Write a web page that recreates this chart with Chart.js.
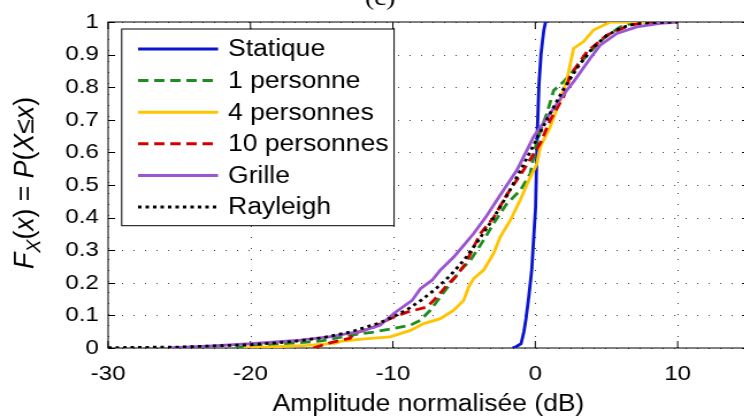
<!DOCTYPE html>
<html>
<head>
<meta charset="utf-8">
<script src="https://cdn.jsdelivr.net/npm/chart.js@4.4.1/dist/chart.umd.min.js"></script>
<style>
  html, body { margin: 0; padding: 0; background: #fff; overflow: hidden; }
</style>
</head>
<body>
<!-- the figure is slightly stretched horizontally, so the canvas is too -->
<canvas id="cdfChart" width="652" height="419" style="display:block;width:749.8px;height:419px"></canvas>
<script>
// Axis ticks
const xTicks = [-30, -20, -10, 0, 10];
const yTicks = [0, 0.1, 0.2, 0.3, 0.4, 0.5, 0.6, 0.7, 0.8, 0.9, 1];

// Series (x in dB, F = cumulative probability)
const statiqueX = [-1.6, -1.35, -1.0, -0.8, -0.65, -0.45, -0.25, -0.08, 0.02, 0.14, 0.26, 0.4, 0.5, 0.6, 0.72];
const statiqueF = [0, 0.004, 0.013, 0.05, 0.09, 0.16, 0.24, 0.36, 0.43, 0.66, 0.81, 0.9, 0.94, 0.975, 1.0];

const pers1X = [-21, -20, -18, -16, -15, -13, -11.35, -9.94, -8.77, -8.07, -7.37, -6.67, -5.96, -5.26, -4.56, -4.09, -3.63, -2.93, -2.46, -1.99, -1.05, -0.35, 0.12, 0.82, 1.29, 1.99, 3.04, 3.86, 4.8, 5.96, 6.9, 8, 10];
const pers1F = [0, 0.008, 0.012, 0.018, 0.022, 0.039, 0.049, 0.06, 0.07, 0.085, 0.116, 0.157, 0.198, 0.239, 0.269, 0.3, 0.331, 0.382, 0.413, 0.443, 0.484, 0.535, 0.638, 0.72, 0.79, 0.817, 0.868, 0.909, 0.95, 0.985, 0.997, 1.0, 1.0];

const pers4X = [-20.5, -18, -16, -14, -13.7, -12, -10.2, -8.77, -7.84, -6.67, -5.73, -5.03, -4.68, -4.33, -3.63, -2.93, -2.46, -1.75, -1.05, -0.5, 0.12, 0.35, 1.05, 1.75, 2.22, 2.69, 3.39, 4.09, 5.26, 6, 10];
const pers4F = [0, 0.004, 0.008, 0.015, 0.02, 0.028, 0.034, 0.054, 0.075, 0.09, 0.116, 0.146, 0.187, 0.213, 0.239, 0.29, 0.341, 0.392, 0.455, 0.51, 0.566, 0.617, 0.679, 0.76, 0.822, 0.919, 0.94, 0.975, 1.0, 1.0, 1.0];

const pers10X = [-15.6, -14.5, -13, -12.75, -11.35, -10.2, -9.0, -7.6, -6.9, -6.2, -5.5, -4.9, -4.33, -3.86, -2.93, -2.0, -0.82, 0.35, 1.05, 1.99, 2.46, 3.63, 5.03, 6.67, 8.3, 10];
const pers10F = [0, 0.015, 0.03, 0.044, 0.064, 0.09, 0.11, 0.126, 0.157, 0.193, 0.223, 0.259, 0.31, 0.351, 0.4, 0.47, 0.546, 0.628, 0.699, 0.771, 0.837, 0.909, 0.96, 0.991, 1.0, 1.0];

const grilleX = [-25.8, -23, -20, -16.5, -14.2, -13, -12.3, -10.9, -9.94, -8.65, -8.07, -7.25, -6.67, -5.73, -5.03, -4.33, -3.5, -2.6, -1.29, -0.47, -0.12, 1.05, 1.6, 2.2, 2.69, 3.86, 4.56, 5.73, 7.13, 8.77, 10];
const grilleF = [0, 0.006, 0.013, 0.024, 0.036, 0.046, 0.05, 0.07, 0.106, 0.146, 0.182, 0.208, 0.239, 0.279, 0.315, 0.351, 0.4, 0.46, 0.546, 0.617, 0.648, 0.72, 0.755, 0.79, 0.817, 0.889, 0.929, 0.965, 0.985, 0.996, 1.0];

const rayleighX = [-30, -25, -20, -17, -15, -13, -11, -10, -9, -8, -7, -6, -5, -4, -3, -2, -1, 0, 1, 2, 3, 4, 5, 6, 7, 8, 10];
const rayleighF = [0.001, 0.003, 0.01, 0.02, 0.031, 0.049, 0.076, 0.095, 0.118, 0.147, 0.181, 0.221, 0.27, 0.33, 0.394, 0.467, 0.548, 0.632, 0.716, 0.795, 0.863, 0.919, 0.958, 0.982, 0.994, 0.998, 1.0];

const seriesLabels = ['Statique', '1 personne', '4 personnes', '10 personnes', 'Grille', 'Rayleigh'];

const FONT = "'Liberation Sans', Arial, sans-serif";

function toPoints(xs, ys) {
  return xs.map((x, i) => ({ x: x, y: ys[i] }));
}

function lineSet(label, xs, ys, color, dash, order) {
  return {
    label: label,
    data: toPoints(xs, ys),
    borderColor: color,
    backgroundColor: color,
    borderWidth: 2.8,
    borderDash: dash,
    borderCapStyle: 'butt',
    pointRadius: 0,
    showLine: true,
    tension: 0,
    fill: false,
    order: order
  };
}

const datasets = [
  lineSet(seriesLabels[0], statiqueX, statiqueF, '#0a14cc', [], 5),
  lineSet(seriesLabels[1], pers1X, pers1F, '#1e8c1e', [9, 5], 4),
  lineSet(seriesLabels[2], pers4X, pers4F, '#ffc400', [], 3),
  lineSet(seriesLabels[3], pers10X, pers10F, '#d40000', [9, 5], 2),
  lineSet(seriesLabels[4], grilleX, grilleF, '#9b55d2', [], 1),
  lineSet(seriesLabels[5], rayleighX, rayleighF, '#000000', [3, 3.5], 0)
];

// dotted grid, frame, inward ticks, titles and the boxed legend
const decorPlugin = {
  id: 'decor',
  beforeDatasetsDraw(chart) {
    const ctx = chart.ctx;
    const a = chart.chartArea;
    const xs = chart.scales.x, ys = chart.scales.y;
    ctx.save();

    // dotted grid
    ctx.strokeStyle = 'rgba(0,0,0,0.75)';
    ctx.lineWidth = 1;
    ctx.setLineDash([1, 10]);
    ctx.beginPath();
    xTicks.forEach(v => {
      const px = Math.round(xs.getPixelForValue(v)) + 0.5;
      ctx.moveTo(px, a.bottom); ctx.lineTo(px, a.top);
    });
    ctx.stroke();
    ctx.setLineDash([1, 9]);
    ctx.beginPath();
    yTicks.forEach(v => {
      const py = Math.round(ys.getPixelForValue(v)) + 0.5;
      ctx.moveTo(a.left + 2, py); ctx.lineTo(a.right, py);
    });
    ctx.stroke();
    ctx.setLineDash([]);

    // frame and ticks
    ctx.strokeStyle = '#000';
    ctx.strokeRect(a.left, a.top, a.right - a.left, a.bottom - a.top);
    ctx.beginPath();
    xTicks.forEach(v => {
      const px = xs.getPixelForValue(v);
      ctx.moveTo(px, a.bottom); ctx.lineTo(px, a.bottom - 7);
      ctx.moveTo(px, a.top); ctx.lineTo(px, a.top + 7);
    });
    yTicks.forEach(v => {
      const py = Math.round(ys.getPixelForValue(v)) + 0.5;
      ctx.moveTo(a.left, py); ctx.lineTo(a.left + 6, py);
      ctx.moveTo(a.right, py); ctx.lineTo(a.right - 6, py);
    });
    ctx.stroke();
    ctx.restore();
  },
  afterDraw(chart) {
    const ctx = chart.ctx;
    const a = chart.chartArea;
    ctx.save();
    ctx.fillStyle = '#000';

    // x title
    ctx.font = '23px ' + FONT;
    ctx.textAlign = 'center';
    ctx.textBaseline = 'alphabetic';
    ctx.fillText('Amplitude normalisée (dB)', (a.left + a.right) / 2, 411);

    // panel label, cut at the top
    ctx.font = "24px 'Liberation Serif', 'Times New Roman', serif";
    ctx.fillText('(c)', 330.5, 4.5);

    // y title: F_X(x) = P(X≤x)
    const parts = [
      { t: 'F', it: true }, { t: 'X', it: true, sub: true }, { t: '(' }, { t: 'x', it: true }, { t: ')' },
      { t: ' = ' }, { t: 'P', it: true }, { t: '(' }, { t: 'X', it: true }, { t: '≤' }, { t: 'x', it: true }, { t: ')' }
    ];
    const fontOf = p => (p.it ? 'italic ' : '') + (p.sub ? '17px ' : '23px ') + FONT;
    let total = 0;
    parts.forEach(p => { ctx.font = fontOf(p); p.w = ctx.measureText(p.t).width; total += p.w; });
    ctx.translate(28.7, 183);
    ctx.rotate(-Math.PI / 2);
    ctx.scale(172 / total, 1);
    ctx.textAlign = 'left';
    let cx = -total / 2;
    parts.forEach(p => {
      ctx.font = fontOf(p);
      ctx.fillText(p.t, cx, p.sub ? 6 : 0);
      cx += p.w;
    });
    ctx.setTransform(1, 0, 0, 1, 0, 0);

    // legend box
    const box = { l: 105.8, t: 29, r: 342.6, b: 225.7 };
    ctx.fillStyle = '#fff';
    ctx.fillRect(box.l, box.t, box.r - box.l, box.b - box.t);
    ctx.strokeStyle = '#000';
    ctx.lineWidth = 1;
    ctx.strokeRect(box.l, box.t, box.r - box.l, box.b - box.t);
    ctx.font = '23px ' + FONT;
    ctx.textBaseline = 'middle';
    ctx.textAlign = 'left';
    chart.data.datasets.forEach((ds, i) => {
      const y = 49 + i * 31.6;
      ctx.save();
      ctx.strokeStyle = ds.borderColor;
      ctx.lineWidth = 3;
      ctx.setLineDash(ds.borderDash);
      ctx.beginPath();
      ctx.moveTo(120, y);
      ctx.lineTo(189.6, y);
      ctx.stroke();
      ctx.restore();
      ctx.fillStyle = '#000';
      ctx.fillText(ds.label, 198.3, y + 1);
    });
    ctx.restore();
  }
};

function initializeCdfChart() {
  const ctx = document.getElementById('cdfChart').getContext('2d');
  window.cdfChart = new Chart(ctx, {
    type: 'scatter',
    data: { datasets: datasets },
    options: {
      responsive: false,
      animation: false,
      layout: { padding: { top: 22, right: 1, left: 0, bottom: 0 } },
      plugins: {
        legend: { display: false },
        tooltip: { enabled: false }
      },
      scales: {
        x: {
          type: 'linear',
          min: -30,
          max: 15,
          afterBuildTicks: s => { s.ticks = xTicks.map(v => ({ value: v })); },
          afterFit: s => { s.height = 71; },
          grid: { display: false, drawTicks: false },
          border: { display: false },
          ticks: {
            padding: 14,
            color: '#000',
            font: { family: FONT, size: 21 },
            maxRotation: 0,
            autoSkip: false,
            callback: v => String(v)
          }
        },
        y: {
          type: 'linear',
          min: 0,
          max: 1,
          afterBuildTicks: s => { s.ticks = yTicks.map(v => ({ value: v })); },
          afterFit: s => { s.width = 94; },
          grid: { display: false, drawTicks: false },
          border: { display: false },
          ticks: {
            padding: 8,
            color: '#000',
            font: { family: FONT, size: 21 },
            autoSkip: false,
            callback: v => String(Math.round(v * 10) / 10)
          }
        }
      }
    },
    plugins: [decorPlugin]
  });
}

document.addEventListener('DOMContentLoaded', initializeCdfChart);
</script>
</body>
</html>
